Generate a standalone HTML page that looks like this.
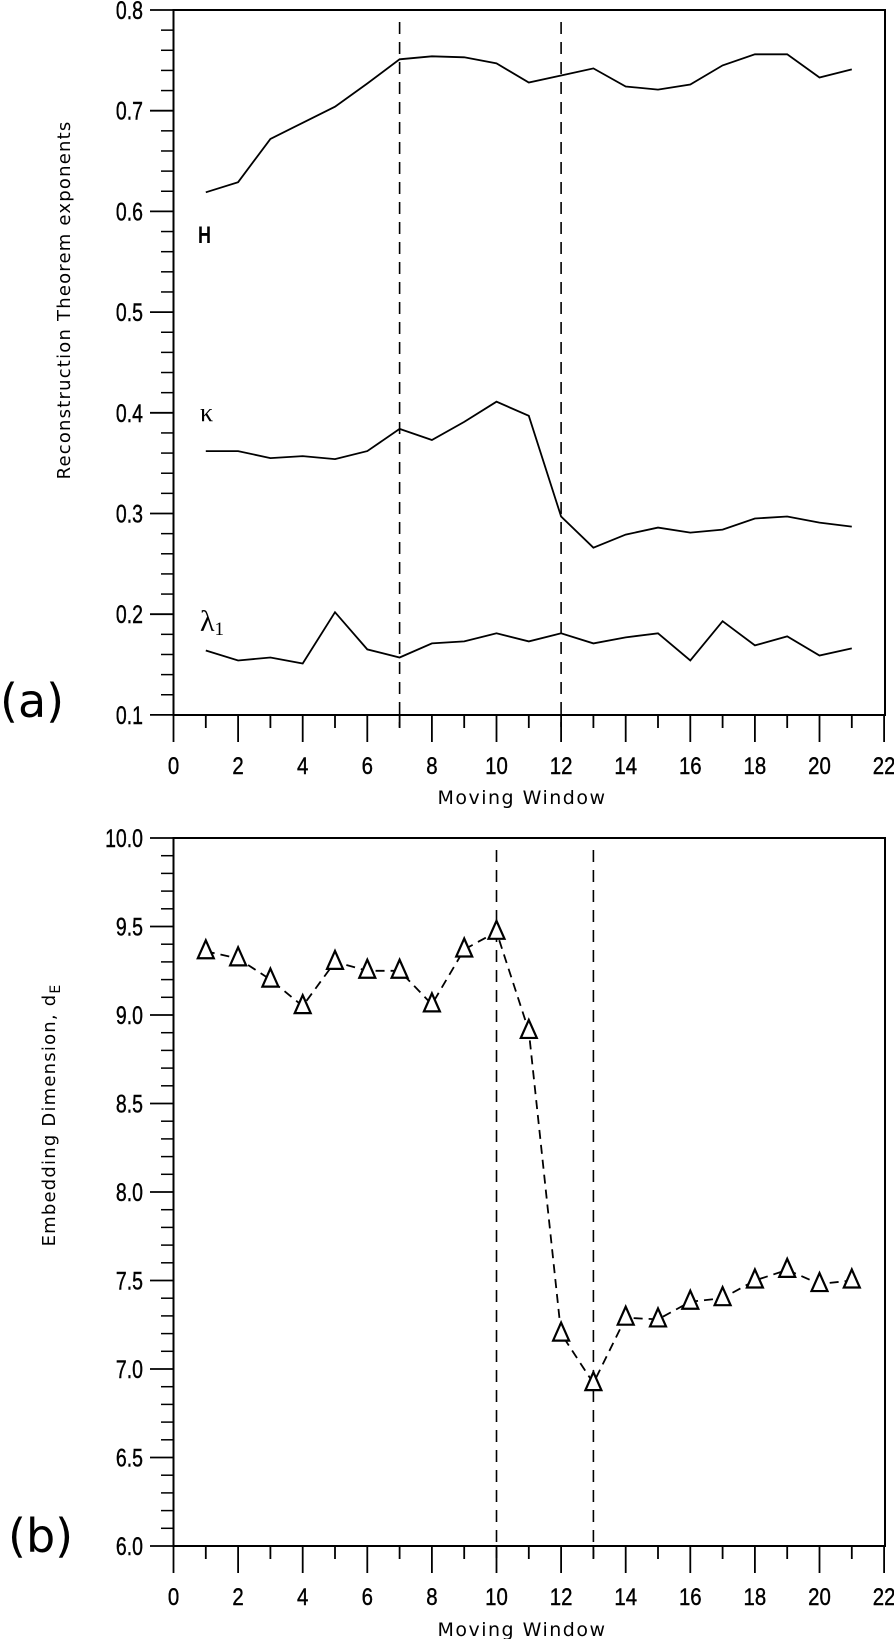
<!DOCTYPE html>
<html><head><meta charset="utf-8"><style>
html,body{margin:0;padding:0;background:#fff;}
svg{display:block;}
</style></head><body>
<svg id="s" width="894" height="1639" xmlns="http://www.w3.org/2000/svg"></svg>
<script>
const s=document.getElementById('s');let h='';
const LS='style="font-family:\'Liberation Sans\',sans-serif"';
const DJ='style="font-family:\'DejaVu Sans\',sans-serif"';
const SR='style="font-family:\'Liberation Serif\',serif"';
const X0=173.5,XU=32.3;
function px(v){return X0+v*XU;}
const T0=10,TB=715;function ty(v){return T0+(0.8-v)*1007;}
const B0=838,BB=1546;function by(v){return B0+(10-v)*177;}
function frame(top,bot,ticksY,nMinor){
 h+=`<rect x="${X0}" y="${top}" width="${885-X0}" height="${bot-top}" fill="none" stroke="#000" stroke-width="2"/>`;
 for(let i=0;i<=22;i++){let x=px(i);let len=i%2==0?27:13;
  h+=`<line x1="${x}" y1="${bot}" x2="${x}" y2="${bot+len}" stroke="#000" stroke-width="1.8"/>`;
  if(i%2==0)h+=`<text ${LS} x="${x}" y="${bot+59}" font-size="24" text-anchor="middle" stroke="#000" stroke-width="0.4" transform="translate(${x} 0) scale(0.85 1) translate(${-x} 0)">${i}</text>`;}
 const n=ticksY.length;
 for(let k=0;k<n;k++){let y=ticksY[k][0];
  h+=`<line x1="150" y1="${y}" x2="${X0}" y2="${y}" stroke="#000" stroke-width="1.8"/>`;
  h+=`<text ${LS} x="143" y="${y+9}" font-size="25" text-anchor="end" stroke="#000" stroke-width="0.4" transform="translate(143 0) scale(0.78 1) translate(-143 0)">${ticksY[k][1]}</text>`;
  if(k<n-1){let y2=ticksY[k+1][0];for(let m=1;m<nMinor;m++){let yy=y+(y2-y)*m/nMinor;h+=`<line x1="161" y1="${yy}" x2="${X0}" y2="${yy}" stroke="#000" stroke-width="1.5"/>`;}}
 }
}
let tt=[];for(let v=8;v>=1;v--)tt.push([ty(v/10),'0.'+v]);
frame(T0,TB,tt,5);
let bt=[];for(let v=20;v>=12;v--)bt.push([by(v/2),(v/2).toFixed(1)]);
frame(B0,BB,bt,5);
function line(d,f,dash){let p=d.map((v,i)=>`${px(i+1).toFixed(1)},${f(v).toFixed(1)}`).join(' ');
 h+=`<polyline points="${p}" fill="none" stroke="#000" stroke-width="1.8" ${dash?'stroke-dasharray="9 6"':''}/>`;}
const H=[0.619,0.629,0.672,0.688,0.704,0.727,0.751,0.754,0.753,0.747,0.728,0.735,0.742,0.724,0.721,0.726,0.745,0.756,0.756,0.733,0.741];
const K=[0.362,0.362,0.355,0.357,0.354,0.362,0.384,0.373,0.391,0.411,0.397,0.297,0.266,0.279,0.286,0.281,0.284,0.295,0.297,0.291,0.287];
const L=[0.164,0.154,0.157,0.151,0.202,0.165,0.157,0.171,0.173,0.181,0.173,0.181,0.171,0.177,0.181,0.154,0.193,0.169,0.178,0.159,0.166];
line(H,ty);line(K,ty);line(L,ty);
for(const v of [7,12])h+=`<line x1="${px(v)}" y1="22" x2="${px(v)}" y2="${TB+12}" stroke="#000" stroke-width="1.6" stroke-dasharray="12 8"/>`;
for(const v of [10,13])h+=`<line x1="${px(v)}" y1="850" x2="${px(v)}" y2="${BB+12}" stroke="#000" stroke-width="1.6" stroke-dasharray="12 8"/>`;
const D=[9.36,9.32,9.20,9.05,9.30,9.25,9.25,9.06,9.37,9.47,8.91,7.20,6.92,7.29,7.28,7.38,7.40,7.50,7.56,7.48,7.50];
line(D,by,true);
D.forEach((v,i)=>{let x=px(i+1),y=by(v);h+=`<polygon points="${x},${y-11} ${x-8},${y+7} ${x+8},${y+7}" fill="#fff" stroke="#000" stroke-width="2.2"/>`;});
h+=`<text ${LS} x="198" y="243" font-size="24" font-weight="bold" transform="translate(198 0) scale(0.75 1) translate(-198 0)">H</text>`;
h+=`<text ${SR} x="200" y="421" font-size="26">κ</text>`;
h+=`<text ${SR} x="200" y="631" font-size="30">λ<tspan font-size="19" dy="4">1</tspan></text>`;
h+=`<text ${DJ} x="522" y="804" font-size="19" text-anchor="middle" letter-spacing="1.5">Moving Window</text>`;
h+=`<text ${DJ} x="522" y="1636" font-size="19" text-anchor="middle" letter-spacing="1.5">Moving Window</text>`;
h+=`<text ${DJ} transform="translate(70 300) rotate(-90)" font-size="18" text-anchor="middle" letter-spacing="1.2">Reconstruction Theorem exponents</text>`;
h+=`<text ${DJ} transform="translate(55 1115) rotate(-90)" font-size="18" text-anchor="middle" letter-spacing="1.2">Embedding Dimension, d<tspan font-size="14" dy="5">E</tspan></text>`;
h+=`<text ${DJ} x="0" y="717" font-size="46">(a)</text>`;
h+=`<text ${DJ} x="8" y="1552" font-size="46">(b)</text>`;
s.innerHTML=h;
</script>
</body></html>
